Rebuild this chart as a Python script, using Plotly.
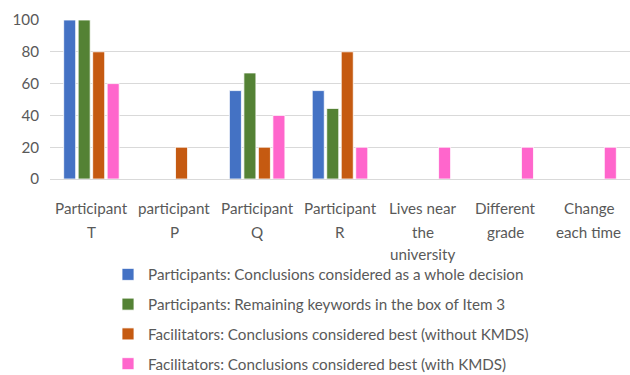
import plotly.graph_objects as go

# Categories on the x axis (line breaks as drawn under each group)
categories = ["Participant T", "participant P", "Participant Q", "Participant R",
              "Lives near the university", "Different grade", "Change each time"]
category_lines = [["Participant", "T"], ["participant", "P"], ["Participant", "Q"],
                  ["Participant", "R"], ["Lives near", "the", "university"],
                  ["Different", "grade"], ["Change", "each time"]]

# Series values (%); None = no bar
whole_decision = [100, None, 55.6, 55.6, None, None, None]
remaining_keywords = [100, None, 66.7, 44.4, None, None, None]
best_without_kmds = [80, 20, 20, 80, None, None, None]
best_with_kmds = [60, None, 40, 20, 20, 20, 20]

series_names = [
    "Participants: Conclusions considered as a whole decision",
    "Participants: Remaining keywords in the box of Item 3",
    "Facilitators: Conclusions considered best (without KMDS)",
    "Facilitators: Conclusions considered best (with KMDS)",
]
series_values = [whole_decision, remaining_keywords, best_without_kmds, best_with_kmds]
series_colors = ["#4472C4", "#548235", "#C55A11", "#FF66CC"]

y_ticks = [0, 20, 40, 60, 80, 100]

FONT = "Lato"
TEXT = "#595959"
FS = 15.2

fig = go.Figure()
for i, (name, vals, col) in enumerate(zip(series_names, series_values, series_colors)):
    fig.add_trace(go.Bar(
        x=categories, y=vals, name=name,
        marker=dict(color=col, line=dict(color="white", width=0.8)),
        legendgroup=f"g{i}",
    ))

# Multi-line category labels under the axis
line_offsets = [-29, -53, -75]
for cat, lines in zip(categories, category_lines):
    for j, line in enumerate(lines):
        fig.add_annotation(
            x=cat, xref="x", y=0, yref="paper", yanchor="middle",
            yshift=line_offsets[j], text=line, showarrow=False,
            font=dict(family=FONT, size=FS, color=TEXT),
        )

fig.update_layout(
    width=630, height=375,
    margin=dict(l=50, r=0, t=20, b=196, autoexpand=False),
    paper_bgcolor="white", plot_bgcolor="white",
    barmode="group", bargap=0.3, bargroupgap=0.17,
    font=dict(family=FONT, size=FS, color=TEXT),
    showlegend=True,
    legend=dict(
        orientation="v", x=0.1, xanchor="left",
        yref="container", y=1 - 258 / 375, yanchor="top",
        font=dict(family=FONT, size=FS, color=TEXT),
        tracegroupgap=7, itemwidth=30, bgcolor="rgba(0,0,0,0)",
    ),
)
fig.update_xaxes(
    categoryorder="array", categoryarray=categories,
    showticklabels=False, showgrid=False, showline=True,
    linecolor="#D9D9D9", linewidth=1, ticks="",
)
fig.update_yaxes(
    range=[0, 100], tickvals=y_ticks, showgrid=True, gridcolor="#D9D9D9",
    gridwidth=1, zeroline=False, showline=False, ticks="",
    ticklabelstandoff=10, tickfont=dict(family=FONT, size=FS, color=TEXT),
)

fig.write_html("out.html")
